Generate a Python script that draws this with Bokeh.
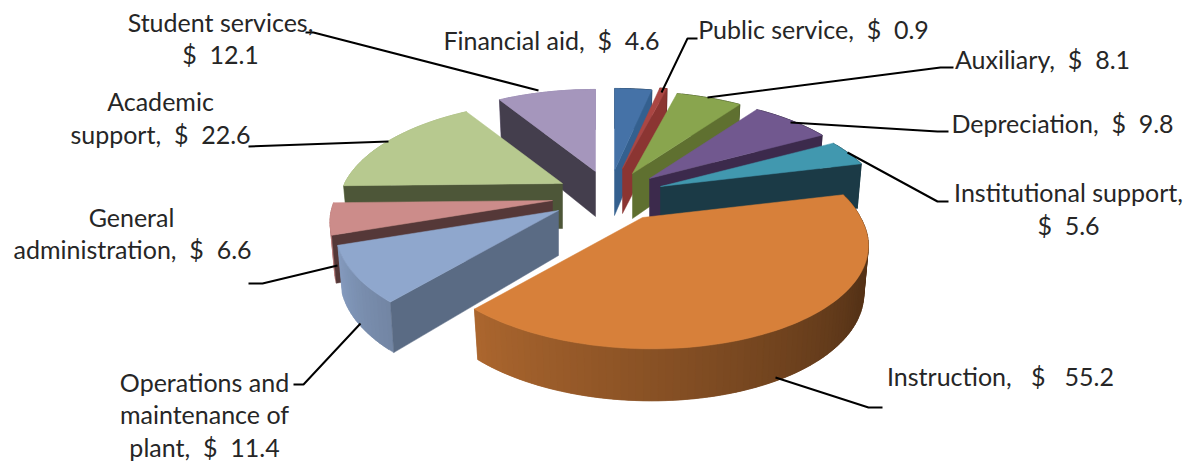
import numpy as np
from bokeh.plotting import figure
from bokeh.models import ColumnDataSource
from bokeh.core.properties import value
from bokeh.embed import file_html
from bokeh.resources import INLINE

# ---- data ----
categories = ["Financial aid", "Public service", "Auxiliary", "Depreciation",
              "Institutional support", "Instruction",
              "Operations and maintenance of plant", "General administration",
              "Academic support", "Student services"]
amounts = [4.6, 0.9, 8.1, 9.8, 5.6, 55.2, 11.4, 6.6, 22.6, 12.1]

# ---- styles ----
top_colors = ["#4572a7", "#aa4643", "#89a54e", "#71588f", "#4198af",
              "#d7803a", "#8fa7cd", "#cc8c8a", "#b7c98f", "#a596bc"]
cut_colors = ["#34608f", "#8b3532", "#5f7030", "#3c2a4c", "#1b3a46",
              "#56341a", "#5a6b84", "#553838", "#4d5638", "#443e4d"]

# ---- layout: exploded apex of every slice on the page, in pixels ----
apex_x = [614, 622, 632, 649, 660, 642, 558, 552, 562, 595]
apex_y = [170, 168, 173, 178, 186, 217, 210, 200, 183, 171]
RX_RIGHT, RX_LEFT, RY, PERSP, SKEW = 218.0, 218.0, 101.0, 0.231, 7.0
DEPTH = 45.0
paint_order = [0, 1, 2, 3, 4, 9, 8, 7, 6, 5]


def rim(theta):
    u, v = np.sin(theta), -np.cos(theta)
    d = 1 - PERSP * v
    rx = np.where(u > 0, RX_RIGHT, RX_LEFT)
    return (rx * u + SKEW * np.maximum(v, 0)) / d, RY * v / d, v


def drop(dx, dy, v):
    return dx * 0.98, dy + 46 + 6 * v


def shade(color, f):
    rgb = [int(color[i:i + 2], 16) for i in (1, 3, 5)]
    return "#%02x%02x%02x" % tuple(int(round(c * f)) for c in rgb)


total = sum(amounts)
edges = np.concatenate([[0], np.cumsum(amounts)]) / total * 2 * np.pi

xs, ys, cols = [], [], []


def add(px, py, c):
    xs.append(list(px))
    ys.append(list(py))
    cols.append(c)


for i in paint_order:
    ax, ay = apex_x[i], apex_y[i]
    t0, t1 = edges[i], edges[i + 1]
    n = max(3, int((t1 - t0) / np.radians(1.5)))
    th = np.linspace(t0, t1, n)
    dx, dy, v = rim(th)
    bx, by = drop(dx, dy, v)
    # outer wall: overlapping narrow bands, so the shading runs along it without seams
    for k in range(n - 1):
        e = min(k + 2, n - 1)
        deg = np.degrees((th[k] + th[k + 1]) / 2)
        f = np.interp(deg, [120, 222, 251, 270], [0.40, 0.80, 0.93, 0.95])
        seg = range(k, e + 1)
        add([ax + dx[s] for s in seg] + [ax + bx[s] for s in reversed(seg)],
            [ay + dy[s] for s in seg] + [ay + by[s] for s in reversed(seg)],
            shade(top_colors[i], f))
    # cut faces that look toward the viewer
    for j, other in ((0, -1), (-1, 0)):
        ex, ey = dx[j], dy[j]
        ox, oy = dx[other], dy[other]
        facing = ex * (ex * oy - ey * ox)
        if facing < 0:
            add([ax, ax + ex, ax + bx[j], ax],
                [ay, ay + ey, ay + by[j], ay + DEPTH], cut_colors[i])
    add(np.concatenate([[ax], ax + dx]), np.concatenate([[ay], ay + dy]), top_colors[i])

# ---- labels ----
label_text = ["Student services,", "$  12.1", "Financial aid,  $  4.6", "Public service,  $  0.9",
              "Auxiliary,  $  8.1", "Depreciation,  $  9.8", "Institutional support,", "$  5.6",
              "Instruction,   $   55.2", "Operations and", "maintenance of", "plant,  $  11.4",
              "General", "administration,  $  6.6", "Academic", "support,  $  22.6"]
label_text = [t.replace("   ", "\u00a0\u00a0 ").replace("  ", "\u00a0 ") for t in label_text]
label_x = [220, 220, 551, 813, 1042, 1062, 1068, 1068, 1000, 204, 204, 204, 131, 132, 160, 160]
label_y = [21, 53, 39, 28, 58, 122, 191, 224, 375, 381, 413, 446, 216, 248, 100, 133]

leaders = [
    ([305, 313, 538], [32, 32, 90]),
    ([248, 388], [146, 141]),
    ([248, 262, 337], [283, 283, 265]),
    ([293, 303, 360], [384, 384, 323]),
    ([882, 868, 775], [407, 407, 377]),
    ([948, 937, 847], [201, 201, 152]),
    ([948, 937, 790], [131, 131, 122]),
    ([953, 940, 707], [67, 67, 97]),
    ([697, 687, 661], [38, 38, 92]),
]

p = figure(width=1189, height=462, x_range=(0, 1189), y_range=(462, 0),
           output_backend="svg", toolbar_location=None, min_border=0)
p.axis.visible = False
p.grid.visible = False
p.outline_line_color = None
p.background_fill_color = "white"

p.patches("xs", "ys", source=ColumnDataSource(dict(xs=xs, ys=ys, fill=cols)),
          fill_color="fill", line_color="fill", line_width=0.5)

p.multi_line([l[0] for l in leaders], [l[1] for l in leaders], line_color="#000000", line_width=2)

p.text(label_x, label_y, text=label_text, text_font=value("Lato"), text_font_size="25px",
       text_color="#262626", text_align="center", text_baseline="middle")

open("out.html", "w").write(file_html(p, INLINE))
